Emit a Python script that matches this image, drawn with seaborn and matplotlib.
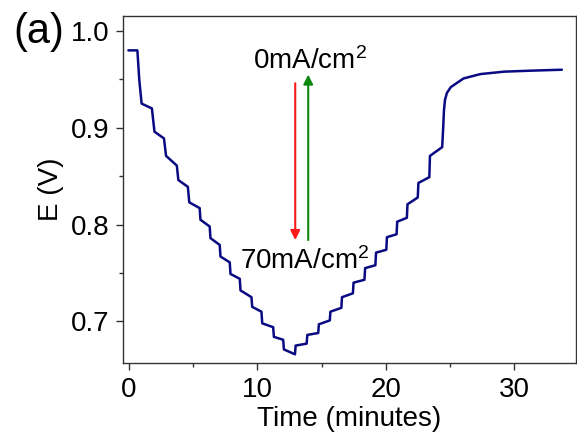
import matplotlib
matplotlib.use("Agg")
import matplotlib.pyplot as plt
import seaborn as sns
import pandas as pd
from matplotlib.ticker import MultipleLocator

# Polarization step data (time in minutes, potential in V)
time_min = [-0.05, 0.65, 0.80, 0.98,
            1.78, 1.98, 2.72, 2.88, 3.72, 3.84, 4.58, 4.69,
            5.50, 5.56, 6.28, 6.34, 7.06, 7.12, 7.84, 7.90,
            8.62, 8.68, 9.53, 9.59, 10.31, 10.37, 11.22, 11.28,
            12.00, 12.06, 12.92, 12.97,
            13.83, 13.88, 14.73, 14.78, 15.63, 15.68, 16.53, 16.58,
            17.43, 17.48, 18.33, 18.38, 19.18, 19.23, 20.03, 20.08,
            20.83, 20.88, 21.63, 21.68, 22.48, 22.53, 23.38, 23.43,
            24.38, 24.46, 24.52, 24.60, 24.75, 25.05, 25.60, 26.05,
            27.36, 29.20, 31.25, 33.70]
potential_v = [0.980, 0.980, 0.949, 0.925,
               0.920, 0.896, 0.889, 0.871, 0.861, 0.846, 0.839, 0.823,
               0.817, 0.805, 0.798, 0.786, 0.779, 0.767, 0.761, 0.749,
               0.744, 0.732, 0.725, 0.715, 0.710, 0.698, 0.694, 0.684,
               0.681, 0.671, 0.666, 0.675,
               0.677, 0.686, 0.688, 0.697, 0.701, 0.710, 0.714, 0.725,
               0.729, 0.740, 0.743, 0.755, 0.758, 0.771, 0.774, 0.787,
               0.790, 0.803, 0.807, 0.821, 0.828, 0.843, 0.849, 0.871,
               0.880, 0.900, 0.918, 0.929, 0.936, 0.942, 0.947, 0.951,
               0.9555, 0.958, 0.959, 0.960]

x_ticks = [0, 10, 20, 30]
y_ticks = [0.7, 0.8, 0.9, 1.0]
label_top = "0mA/cm$^2$"
label_bottom = "70mA/cm$^2$"
panel_label = "(a)"

sns.set_style("ticks")
plt.rcParams['font.family'] = ['Liberation Sans', 'DejaVu Sans']
plt.rcParams['mathtext.default'] = 'regular'
plt.rcParams['text.color'] = 'black'
plt.rcParams['axes.labelcolor'] = 'black'

fig = plt.figure(figsize=(5.77, 4.36), dpi=100)
ax = fig.add_axes([123/577, 1 - 363/436, 453/577, 347/436])

df = pd.DataFrame({"Time": time_min, "E": potential_v})
sns.lineplot(data=df, x="Time", y="E", sort=False, estimator=None,
             color="#0a0a82", linewidth=1.8, ax=ax)
for ln in ax.get_lines():
    ln.set_solid_joinstyle("round")
    ln.set_solid_capstyle("round")

ax.set_xlim(-0.47, 34.8)
ax.set_ylim(0.657, 1.0155)
ax.set_xticks(x_ticks)
ax.set_yticks(y_ticks)
ax.set_yticklabels([f"{v:.1f}" for v in y_ticks])
ax.xaxis.set_minor_locator(MultipleLocator(5))
ax.yaxis.set_minor_locator(MultipleLocator(0.05))
ax.tick_params(which="major", direction="out", length=5, width=1,
               labelsize=20, colors="#333333", labelcolor="black", pad=5)
ax.tick_params(which="minor", direction="out", length=3, width=1, colors="#333333")
for side in ["top", "right", "left", "bottom"]:
    ax.spines[side].set_visible(True)
    ax.spines[side].set_color("#333333")
    ax.spines[side].set_linewidth(1)

ax.set_xlabel("Time (minutes)", fontsize=20, labelpad=2)
ax.set_ylabel("E (V)", fontsize=20, labelpad=5)

# arrows
ax.annotate("", xy=(12.94, 0.784), xytext=(12.94, 0.946),
            arrowprops=dict(arrowstyle="-|>", color="#ff1a1a", lw=1.5,
                            mutation_scale=14, shrinkA=0, shrinkB=0))
ax.annotate("", xy=(13.95, 0.955), xytext=(13.95, 0.784),
            arrowprops=dict(arrowstyle="-|>", color="#118811", lw=1.5,
                            mutation_scale=14, shrinkA=0, shrinkB=0))
ax.text(14.1, 0.969, label_top, fontsize=20, ha="center", va="center")
ax.text(13.7, 0.762, label_bottom, fontsize=20, ha="center", va="center")

fig.text(39/577, 1 - 32/436, panel_label, fontsize=30, ha="center", va="center")

fig.savefig("out.png", dpi=100)
